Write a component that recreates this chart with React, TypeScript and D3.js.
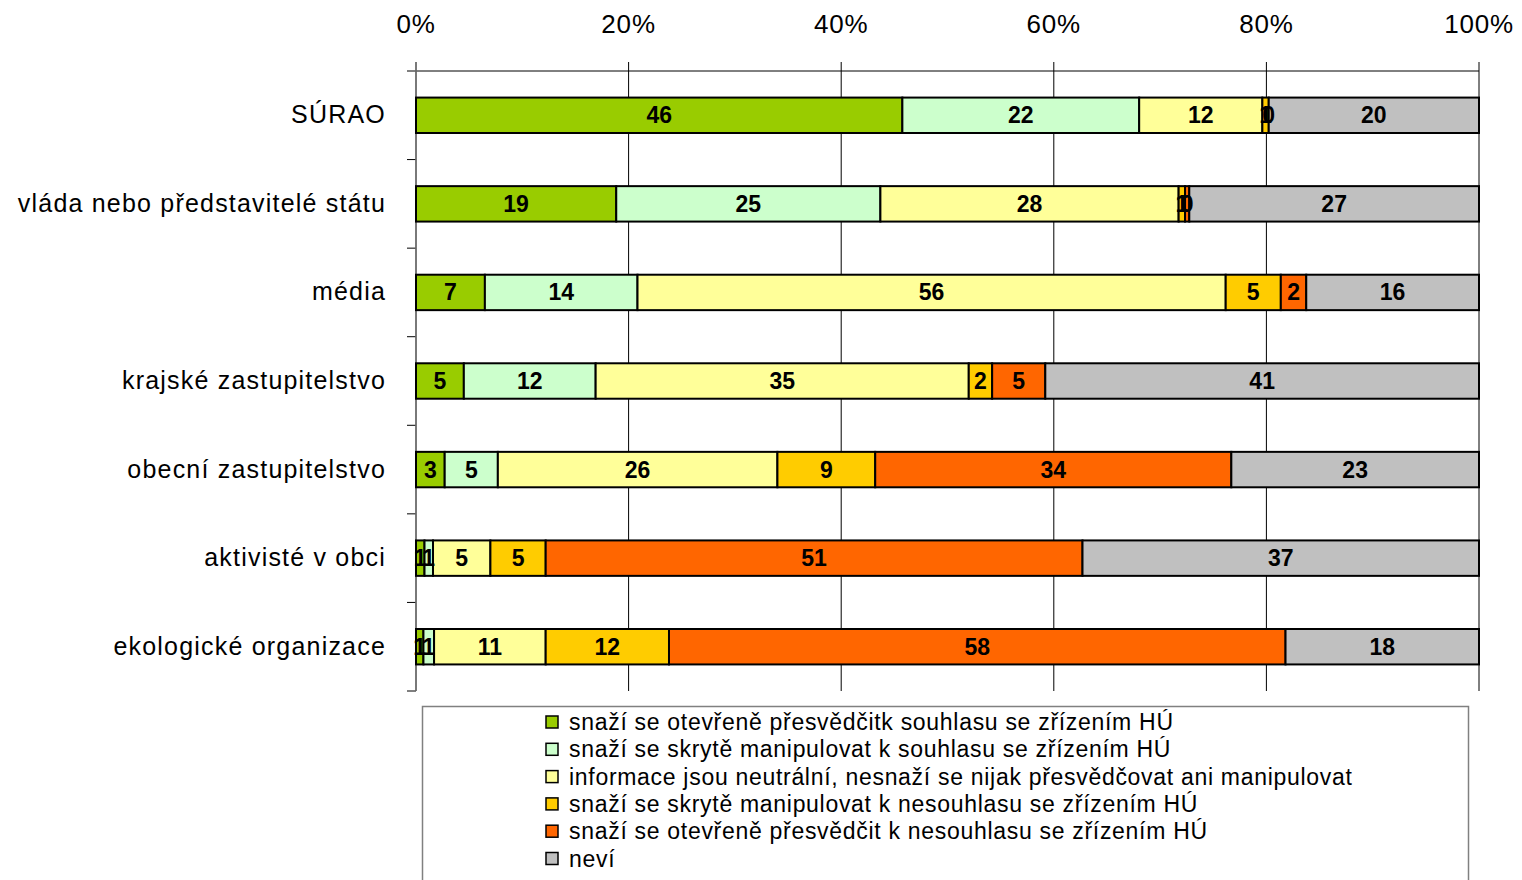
import React from 'react';
import * as d3 from 'd3';

const categories = [
  'SÚRAO',
  'vláda nebo představitelé státu',
  'média',
  'krajské zastupitelstvo',
  'obecní zastupitelstvo',
  'aktivisté v obci',
  'ekologické organizace',
];

const seriesNames = [
  'snaží se otevřeně přesvědčitk souhlasu se zřízením HÚ',
  'snaží se skrytě  manipulovat k souhlasu se zřízením HÚ',
  'informace jsou neutrální, nesnaží se nijak přesvědčovat ani manipulovat',
  'snaží se skrytě  manipulovat k nesouhlasu se zřízením HÚ',
  'snaží se otevřeně přesvědčit k nesouhlasu se zřízením HÚ',
  'neví',
];

const seriesColors = ['#99cc00', '#ccffcc', '#ffff99', '#ffcc00', '#ff6600', '#c0c0c0'];

// values per category, in series order (%), labels show them rounded
const otevreneSouhlas = [45.8, 18.8, 6.5, 4.5, 2.7, 0.8, 0.7];
const skryteSouhlas = [22.3, 24.8, 14.4, 12.4, 5.0, 0.8, 1.0];
const neutralni = [11.6, 28.0, 55.5, 35.1, 26.3, 5.4, 10.5];
const skryteNesouhlas = [0.6, 0.6, 5.2, 2.2, 9.2, 5.2, 11.6];
const otevreneNesouhlas = [0, 0.4, 2.4, 5.0, 33.5, 50.5, 58.0];
const nevi = [19.8, 27.2, 16.3, 40.8, 23.3, 37.3, 18.2];

const seriesValues = [otevreneSouhlas, skryteSouhlas, neutralni, skryteNesouhlas, otevreneNesouhlas, nevi];

const tickValues = [0, 0.2, 0.4, 0.6, 0.8, 1];

const FONT = '"Liberation Sans", Arial, sans-serif';

export default function App() {
  const width = 1522;
  const height = 880;
  const left = 416;
  const right = 1479;
  const top = 71;
  const bottom = 691;

  const x = d3.scaleLinear().domain([0, 1]).range([left, right]);
  const y = d3.scaleBand().domain(categories).range([top, bottom]).paddingInner(0.6).paddingOuter(0.3);
  const yb = d3.scaleBand().domain(categories).range([top, bottom]);

  const rows = categories.map((c, i) => {
    const obj: any = { cat: c };
    seriesNames.forEach((s, j) => (obj[s] = seriesValues[j][i]));
    return obj;
  });
  const stacked = d3.stack().keys(seriesNames).offset(d3.stackOffsetExpand)(rows);

  const fmt = d3.format('.0%');

  return (
    <svg width={width} height={height} style={{ position: 'absolute', left: 0, top: 0 }}>
      <rect width={width} height={height} fill="#fff" />
      {/* gridlines */}
      {tickValues.map(t => (
        <line key={'g' + t} x1={x(t)} x2={x(t)} y1={62} y2={bottom} stroke="#000" strokeWidth={1} />
      ))}
      <line x1={407} x2={right} y1={top} y2={top} stroke="#000" strokeWidth={1} />
      {/* left axis ticks */}
      {categories.map((c, i) => (
        <line key={'lt' + i} x1={407} x2={left} y1={(yb(c) as number) + yb.bandwidth()} y2={(yb(c) as number) + yb.bandwidth()} stroke="#000" />
      ))}
      <line x1={left} x2={left} y1={62} y2={bottom} stroke="#777" strokeWidth={1.5} />
      {/* tick labels */}
      {tickValues.map(t => (
        <text key={'tl' + t} x={x(t)} y={33} textAnchor="middle" fontFamily={FONT} fontSize={26} letterSpacing={0.8} fill="#000">
          {fmt(t)}
        </text>
      ))}
      {/* category labels */}
      {categories.map(c => (
        <text key={'c' + c} x={386} y={(yb(c) as number) + yb.bandwidth() / 2 + 8} textAnchor="end" fontFamily={FONT} fontSize={25} letterSpacing={1.2} fill="#000">
          {c}
        </text>
      ))}
      {/* bars */}
      {stacked.map((s, j) => (
        <g key={'s' + j}>
          {s.map((d, i) => (
            <rect
              key={i}
              x={x(d[0])}
              y={y(categories[i])}
              width={Math.max(0, x(d[1]) - x(d[0]))}
              height={y.bandwidth()}
              fill={seriesColors[j]}
              stroke="#000"
              strokeWidth={2}
            />
          ))}
        </g>
      ))}
      {/* value labels */}
      {stacked.map((s, j) => (
        <g key={'v' + j}>
          {s.map((d, i) => (
            <text
              key={i}
              x={(x(d[0]) + x(d[1])) / 2}
              y={(y(categories[i]) as number) + y.bandwidth() / 2 + 8}
              textAnchor="middle"
              fontFamily={FONT}
              fontWeight="bold"
              fontSize={23}
              fill="#000"
            >
              {Math.round(seriesValues[j][i])}
            </text>
          ))}
        </g>
      ))}
      {/* legend */}
      <rect x={422.5} y={706.5} width={1046} height={200} fill="#fff" stroke="#808080" strokeWidth={1.5} />
      {seriesNames.map((s, j) => (
        <g key={'l' + j} transform={`translate(546, ${722 + j * 27.3})`}>
          <rect x={0} y={-6} width={12} height={12} fill={seriesColors[j]} stroke="#000" strokeWidth={1.5} />
          <text x={23} y={8} fontFamily={FONT} fontSize={23} letterSpacing={0.7} fill="#000">
            {s}
          </text>
        </g>
      ))}
    </svg>
  );
}
